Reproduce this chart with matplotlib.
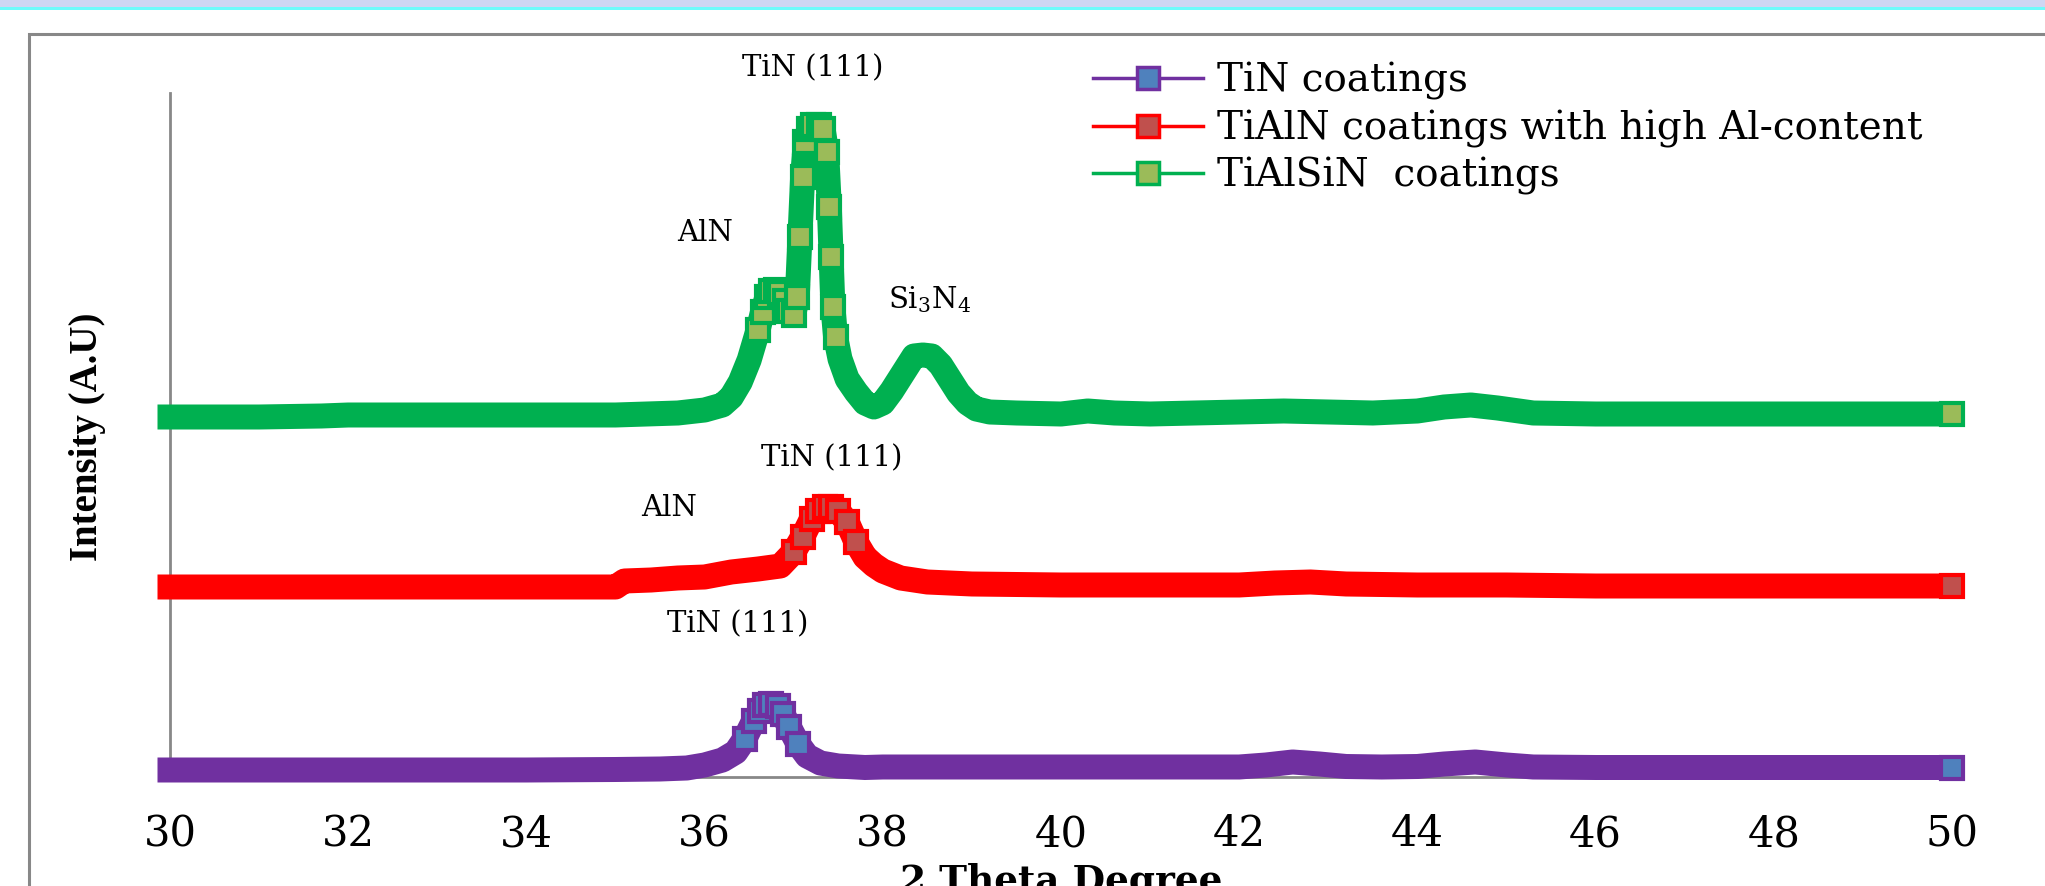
import matplotlib
matplotlib.use('Agg')
import matplotlib.pyplot as plt
from matplotlib.lines import Line2D
from matplotlib.patches import Rectangle

# XRD patterns (intensity in arbitrary units)
tin_x = [30, 31, 32, 33, 34, 35, 35.5, 35.8, 36.0, 36.2, 36.35, 36.45, 36.55, 36.62, 36.68,
         36.75, 36.82, 36.88, 36.95, 37.05, 37.15, 37.3, 37.5, 37.8, 38.0, 38.5, 39, 40, 41,
         42, 42.3, 42.6, 42.9, 43.2, 43.6, 44.0, 44.3, 44.65, 45.0, 45.3, 46, 47, 48, 49, 50]
tin_y = [7, 7, 7, 7, 7, 7.5, 8, 9, 12, 17, 25, 38, 56, 66, 72,
         73, 71, 63, 50, 33, 21, 14, 11, 9.5, 10, 10, 10, 10, 10,
         10, 12, 15, 13, 10.5, 10, 10.5, 13, 15, 12, 10, 9.5, 9.5, 9.5, 9.5, 9.5]

tialn_x = [30, 31, 32, 33, 34, 35, 35.1, 35.4, 35.7, 36.0, 36.3, 36.6, 36.85, 37.0, 37.1,
           37.2, 37.27, 37.35, 37.42, 37.5, 37.6, 37.7, 37.8, 37.9, 38.0, 38.2, 38.5, 39, 40,
           41, 42, 42.4, 42.8, 43.2, 44, 45, 46, 47, 48, 49, 50]
tialn_y = [190, 190, 190, 190, 190, 190, 196, 197, 199, 200, 205, 208, 211, 225, 240,
           258, 266, 270, 270, 266, 255, 235, 220, 212, 206, 199, 195, 193, 192,
           192, 192, 194, 195, 193, 192, 192, 191, 191, 191, 191, 191]

tialsin_x = [30, 31, 31.7, 32, 33, 34, 35, 35.7, 36.0, 36.2, 36.3, 36.4, 36.5, 36.6, 36.65,
             36.7, 36.75, 36.8, 36.85, 36.9, 36.95, 37.0, 37.04, 37.07, 37.1, 37.13, 37.17,
             37.22, 37.28, 37.33, 37.37, 37.4, 37.42, 37.44, 37.47, 37.52, 37.6, 37.7, 37.8,
             37.9, 38.0, 38.1, 38.2, 38.3, 38.35, 38.45, 38.55, 38.65, 38.75, 38.85, 38.95,
             39.05, 39.2, 39.5, 40.0, 40.3, 40.6, 41, 42, 42.5, 43, 43.5, 44.0, 44.3, 44.6,
             44.9, 45.3, 46, 47, 48, 49, 50]
tialsin_y = [360, 360, 361, 362, 362, 362, 362, 364, 367, 372, 380, 395, 417, 447, 465,
             480, 486, 487, 484, 476, 466, 462, 480, 540, 600, 635, 648,
             652, 652, 648, 625, 570, 520, 470, 440, 418, 398, 385, 374,
             370, 374, 386, 400, 414, 421, 422, 421, 412, 398, 384, 374,
             368, 365, 364, 363, 366, 364, 363, 365, 366, 365, 364, 366, 370, 372,
             369, 364, 363, 363, 363, 363, 363]

labels = ['TiN coatings', 'TiAlN coatings with high Al-content', 'TiAlSiN  coatings']
line_colors = ['#7030A0', '#FF0000', '#00B050']
face_colors = ['#4F81BD', '#C0504D', '#9BBB59']
peak_floor = [30, 222, 430]
xticks = [30, 32, 34, 36, 38, 40, 42, 44, 46, 48, 50]

plt.rcParams['mathtext.fontset'] = 'dejavuserif'

fig = plt.figure(figsize=(20.45, 8.86), dpi=100)

# window strip and outer chart frame
fig.patches.append(Rectangle((0, 1 - 8 / 886), 1, 8 / 886, transform=fig.transFigure,
                             facecolor='#CED6F3', edgecolor='none'))
fig.patches.append(Rectangle((0, 1 - 10 / 886), 1, 2.5 / 886, transform=fig.transFigure,
                             facecolor='#6EFBFB', edgecolor='none'))
fig.patches.append(Rectangle((29 / 2045, -0.1), 1.2, 1.1 - 34 / 886, transform=fig.transFigure,
                             facecolor='none', edgecolor='#888888', lw=2.2))

ax = fig.add_axes([170 / 2045, 109 / 886, 1782 / 2045, 684 / 886])

series = [(tin_x, tin_y), (tialn_x, tialn_y), (tialsin_x, tialsin_y)]
for (xs, ys), lc, fc, fl in zip(series, line_colors, face_colors, peak_floor):
    ax.plot(xs, ys, color=lc, lw=18, solid_capstyle='projecting', solid_joinstyle='round',
            clip_on=False, zorder=3)
    # square markers show through on the peaks and at the last point
    idx = [i for i, v in enumerate(ys) if v > fl] + [len(ys) - 1]
    ax.plot([xs[i] for i in idx], [ys[i] for i in idx], ls='none', marker='s', markersize=16,
            mfc=fc, mec=lc, mew=3, clip_on=False, zorder=4)

ax.set_xlim(30, 50)
ax.set_ylim(0, 684)
ax.set_xticks(xticks)
ax.set_xticklabels([str(t) for t in xticks], family='DejaVu Serif', fontsize=30)
ax.tick_params(axis='x', length=0, pad=26)
ax.set_yticks([])
for s in ['top', 'right']:
    ax.spines[s].set_visible(False)
for s in ['left', 'bottom']:
    ax.spines[s].set_color('#888888')
    ax.spines[s].set_linewidth(2)

fig.text(1061 / 2045, -6 / 886, '2 Theta Degree', family='DejaVu Serif', weight='bold',
         fontsize=27, ha='center', va='baseline')
fig.text(87 / 2045, 1 - 437 / 886, 'Intensity (A.U)', family='Liberation Serif', weight='bold',
         fontsize=28, rotation=90, ha='center', va='center')

# peak labels
ann = dict(family='DejaVu Serif', fontsize=21, ha='center', va='center')
ax.text(37.21, 709, 'TiN (111)', **ann)
ax.text(36.0, 544, 'AlN', **ann)
ax.text(38.53, 477, 'Si$_3$N$_4$', **ann)
ax.text(37.43, 319, 'TiN (111)', **ann)
ax.text(35.6, 269, 'AlN', **ann)
ax.text(36.37, 153, 'TiN (111)', **ann)

handles = [Line2D([], [], color=lc, lw=2.5, marker='s', markersize=16, mfc=fc, mec=lc, mew=2.5)
           for lc, fc in zip(line_colors, face_colors)]
fig.legend(handles, labels, loc='upper left', bbox_to_anchor=(1093 / 2045, 1 - 62 / 886),
           frameon=False, borderpad=0, borderaxespad=0, handlelength=2.83, handletextpad=0.36,
           labelspacing=0.25, prop={'family': 'DejaVu Serif', 'size': 28})

fig.savefig('out.png', dpi=100)
